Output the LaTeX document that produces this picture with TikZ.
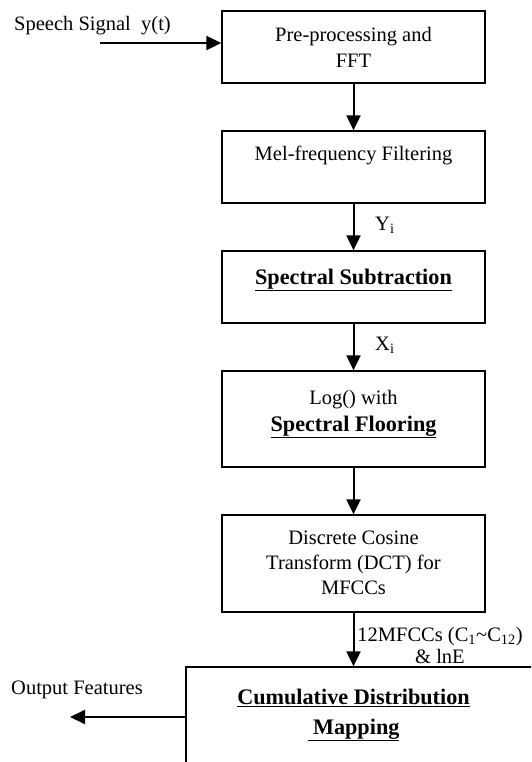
\documentclass[tikz,border=0pt]{standalone}
\usepackage{fontspec}
\setmainfont{Liberation Serif}
\usetikzlibrary{arrows.meta,calc}
\begin{document}
\begin{tikzpicture}[x=1pt,y=-1pt,
  box/.style={draw,line width=1.3pt,inner sep=0pt},
  txt/.style={font=\fontsize{20.5}{26}\selectfont,align=center,inner sep=0pt},
  key/.style={txt,font=\fontsize{22.2}{28}\selectfont\bfseries},
  flow/.style={line width=2pt,-{Triangle[length=15pt,width=14pt]}}]
\useasboundingbox (0,0) rectangle (531,762);
\clip (0,0) rectangle (531,762);

% processing blocks
\node[box,minimum width=263pt,minimum height=72pt] (b1) at (353.5,47) {};
\node[box,minimum width=263pt,minimum height=72pt] (b2) at (353.5,167) {};
\node[box,minimum width=263pt,minimum height=72pt] (b3) at (353.5,287) {};
\node[box,minimum width=263pt,minimum height=96pt] (b4) at (353.5,419) {};
\node[box,minimum width=263pt,minimum height=97pt] (b5) at (353.5,563.5) {};
\node[box,minimum width=374pt,minimum height=133pt] (b6) at (373,733.5) {};

% block texts
\node[txt] (t1) at (353.5,47) {Pre-processing and\\FFT};
\node[txt] (t2) at (353.5,155) {Mel-frequency Filtering};
\node[key] (t3) at (353.5,280) {\underline{Spectral Subtraction}};
\node[txt] (t4a) at (353.5,400) {Log() with};
\node[key] (t4b) at (353.5,427) {\underline{Spectral Flooring}};
\node[txt,font=\fontsize{20.5}{25}\selectfont] (t5) at (353.5,563) {Discrete Cosine\\Transform (DCT) for\\MFCCs};
\node[key,font=\fontsize{22.2}{30}\selectfont\bfseries] (t6) at (353.5,715) {\underline{Cumulative Distribution}\\\underline{\ Mapping}};

% connectors
\coordinate (in) at (100,43);
\coordinate (out) at (70,717);
\draw[flow] (in) -- (in -| b1.west);
\draw[flow] (b1.south) -- (b2.north);
\draw[flow] (b2.south) -- (b3.north);
\draw[flow] (b3.south) -- (b4.north);
\draw[flow] (b4.south) -- (b5.north);
\draw[flow] (b5.south) -- (b5.south |- b6.north);
\draw[flow] (out -| b6.west) -- (out);

% signal labels
\node[txt,anchor=west] (sin) at (14,26) {Speech Signal\ \ y(t)};
\node[txt] (sout) at (77,690) {Output Features};
\node[txt,anchor=west] (ly) at (375,225) {Y\textsubscript{i}};
\node[txt,anchor=west] (lx) at (375,345) {X\textsubscript{i}};
\node[txt,font=\fontsize{20.5}{22}\selectfont] (lc) at (440,645) {12MFCCs (C\textsubscript{1}\textasciitilde C\textsubscript{12})\\\& lnE};
\end{tikzpicture}
\end{document}
